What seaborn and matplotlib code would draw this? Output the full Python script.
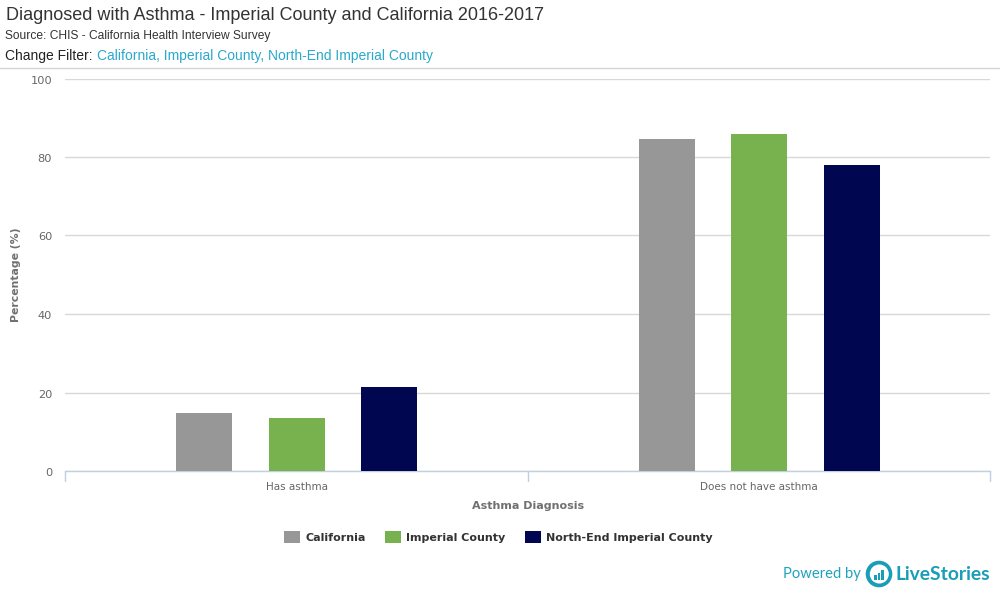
import matplotlib
matplotlib.use("Agg")
import matplotlib.pyplot as plt
from matplotlib.lines import Line2D
from matplotlib.patches import Circle, Rectangle
from matplotlib.transforms import ScaledTranslation
import pandas as pd
import seaborn as sns

categories = ["Has asthma", "Does not have asthma"]
california = [14.8, 84.7]
imperial = [13.6, 85.8]
north_end = [21.4, 78.0]
series_names = ["California", "Imperial County", "North-End Imperial County"]
series_colors = ["#979797", "#78B24E", "#00064F"]
y_ticks = [0, 20, 40, 60, 80, 100]

df = pd.DataFrame({
    "Diagnosis": categories * 3,
    "Series": [s for s in series_names for _ in categories],
    "Value": california + imperial + north_end,
})

W, H = 1000, 600
sns.set_theme(style="white")
plt.rcParams["font.family"] = ["DejaVu Sans"]
fig = plt.figure(figsize=(10, 6), dpi=100, facecolor="white")
ax = fig.add_axes([65.4 / W, 1 - 471 / H, (990.4 - 65.4) / W, (471 - 78.5) / H])

sns.barplot(data=df, x="Diagnosis", y="Value", hue="Series", order=categories,
            hue_order=series_names, palette=series_colors, width=0.6, gap=0.394,
            saturation=1, legend=False, ax=ax, zorder=3, linewidth=0)

ax.set_xlim(-0.5, 1.5)
ax.set_ylim(0, 100)
ax.set_yticks(y_ticks)
ax.set_yticklabels([str(v) for v in y_ticks], fontsize=8.2, color="#666666")
ax.tick_params(axis="y", length=0, pad=9.5)
for lab in ax.get_yticklabels():
    lab.set_transform(lab.get_transform() + ScaledTranslation(0, -1 / 100, fig.dpi_scale_trans))
ax.set_xticks([0, 1])
ax.set_xticklabels(categories, fontsize=7.5, color="#666666")
ax.tick_params(axis="x", length=0, pad=8)
ax.grid(axis="y", color="#D8D8D8", linewidth=1)
ax.set_axisbelow(True)
for side in ("top", "right", "left"):
    ax.spines[side].set_visible(False)
ax.spines["bottom"].set_color("#C0D0E0")
ax.spines["bottom"].set_linewidth(1)
ax.set_xlabel("Asthma Diagnosis", fontsize=8.0, fontweight="bold", color="#707070", labelpad=6.3)
ax.set_ylabel("")
fig.text(16 / W, 1 - 275 / H, "Percentage (%)", fontsize=7.8, fontweight="bold",
         color="#707070", rotation=90, va="center", ha="center")

# category separators below the axis
for xv in (-0.5, 0.5, 1.5):
    ax.plot([xv, xv], [0, -2.6], color="#C0D0E0", lw=1, clip_on=False, zorder=2)

# header
fig.text(6 / W, 1 - 16 / H, "Diagnosed with Asthma - Imperial County and California 2016-2017",
         fontsize=13.0, family="Liberation Sans", color="#333333", va="center")
fig.text(5 / W, 1 - 36.5 / H, "Source: CHIS - California Health Interview Survey",
         fontsize=8.65, family="Liberation Sans", color="#333333", va="center")
fig.text(5 / W, 1 - 56 / H, "Change Filter:", fontsize=10.0,
         family="Liberation Sans", color="#222222", va="center")
fig.text(97 / W, 1 - 56 / H, "California, Imperial County, North-End Imperial County",
         fontsize=10.0, family="Liberation Sans", color="#29A9CC", va="center")
fig.add_artist(Line2D([0, 1], [1 - 68 / H] * 2, color="#D5D5D5", lw=1))

# legend
lx = [284, 385, 525]
names_x = [305, 406, 546]
for x0, tx, name, col in zip(lx, names_x, series_names, series_colors):
    fig.add_artist(Rectangle((x0 / W, 1 - 543 / H), 16 / W, 12 / H,
                             transform=fig.transFigure, facecolor=col, edgecolor="none"))
    fig.text(tx / W, 1 - 538 / H, name, fontsize=8.05, fontweight="bold",
             color="#333333", va="center")

# brand mark
fig.text(861 / W, 1 - 574 / H, "Powered by", fontsize=10.6, family="Lato",
         color="#1FA3BC", va="center", ha="right")
fig.text(990 / W, 1 - 574 / H, "LiveStories", fontsize=13.9, family="Lato", fontweight="bold",
         color="#1A9DB8", va="center", ha="right")
logo = fig.add_axes([865 / W, 1 - 588 / H, 28 / W, 28 / H])
logo.set_xlim(-1, 1); logo.set_ylim(-1, 1); logo.axis("off")
logo.add_patch(Circle((0, 0), 0.95, facecolor="#1A9DB8", edgecolor="none"))
logo.add_patch(Circle((0.02, 0), 0.68, facecolor="white", edgecolor="none"))
for bx, bh in ((-0.25, 0.3), (0.0, 0.5), (0.25, 0.7)):
    logo.add_patch(Rectangle((bx - 0.08, -0.4), 0.16, bh, facecolor="#1A9DB8", edgecolor="none"))

fig.savefig("out.png", dpi=100, facecolor="white")
